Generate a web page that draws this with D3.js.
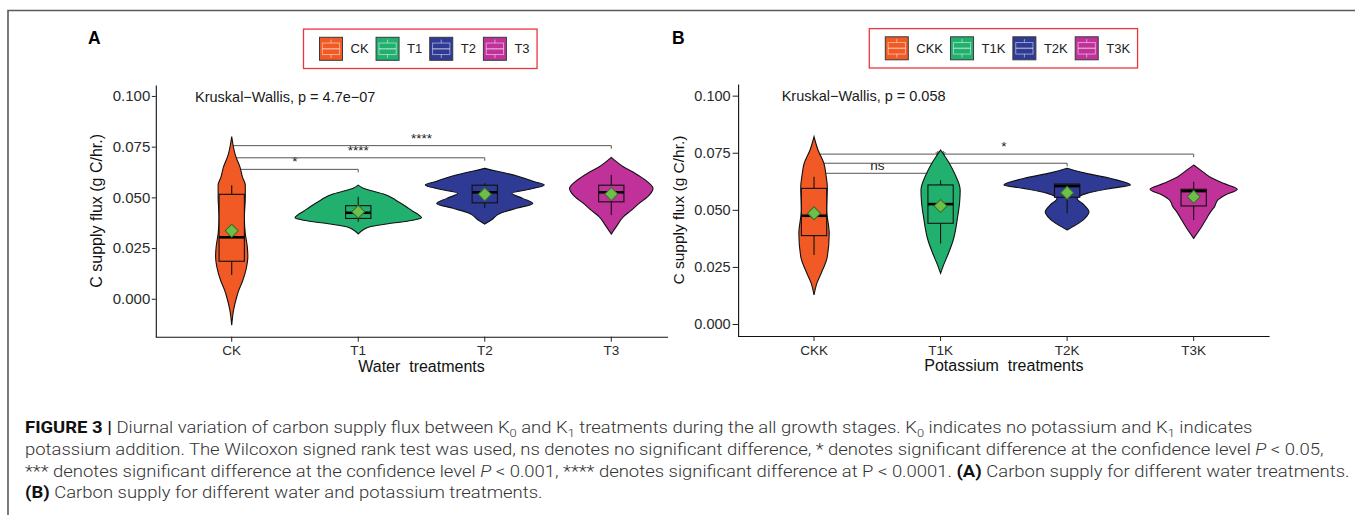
<!DOCTYPE html>
<html><head><meta charset="utf-8">
<script src="https://cdn.jsdelivr.net/npm/d3@7"></script>
<style>body{margin:0;background:#fff} svg{display:block}</style>
</head><body>
<svg id="c" width="1355" height="515"></svg>
<script>
// ---------------- DATA ----------------
const catsA = ["CK","T1","T2","T3"];
const catsB = ["CKK","T1K","T2K","T3K"];
const fillColors = ["#F15A24","#21B06E","#2E3A93","#C1319A"];
const yTicks = [0, 0.025, 0.05, 0.075, 0.1];
const yTickLabels = ["0.000","0.025","0.050","0.075","0.100"];

// violin profiles: [value, relative density]
const densCK  = [[0.080,0],[0.0706,0.06],[0.065,0.13],[0.060,0.17],[0.056,0.215],[0.050,0.215],[0.040,0.20],[0.032,0.215],[0.026,0.245],[0.021,0.255],[0.015,0.23],[0.009,0.175],[0.004,0.11],[0.001,0.08],[-0.0055,0.03],[-0.013,0]];
const densT1  = [[0.056,0],[0.0545,0.08],[0.053,0.24],[0.0517,0.4],[0.0485,0.6],[0.0454,0.76],[0.043,0.87],[0.0415,0.95],[0.040,1.0],[0.039,0.9],[0.038,0.71],[0.037,0.47],[0.0355,0.185],[0.034,0.08],[0.032,0]];
const densT2  = [[0.0643,0],[0.0631,0.16],[0.0618,0.35],[0.0602,0.55],[0.0577,0.79],[0.0561,0.94],[0.054,0.71],[0.052,0.43],[0.0495,0.6],[0.047,0.76],[0.0446,0.5],[0.0421,0.24],[0.039,0.11],[0.0368,0]];
const densT3  = [[0.0697,0],[0.0651,0.19],[0.0618,0.38],[0.0585,0.54],[0.0544,0.66],[0.0511,0.6],[0.047,0.44],[0.0437,0.32],[0.0404,0.19],[0.0363,0.095],[0.0319,0]];
const densCKK = [[0.082,0],[0.0762,0.063],[0.0703,0.157],[0.065,0.19],[0.0601,0.21],[0.050,0.2],[0.0397,0.24],[0.0295,0.21],[0.022,0.11],[0.018,0.047],[0.0127,0]];
const densT1K = [[0.0762,0],[0.0703,0.14],[0.066,0.22],[0.0587,0.31],[0.053,0.3],[0.047,0.27],[0.0368,0.2],[0.031,0.125],[0.026,0.05],[0.0222,0]];
const densT2K = [[0.0682,0],[0.0664,0.23],[0.0637,0.69],[0.0609,1.0],[0.0594,0.69],[0.0572,0.31],[0.055,0.16],[0.0521,0.27],[0.0492,0.345],[0.0463,0.28],[0.0434,0.14],[0.0412,0]];
const densT3K = [[0.0696,0],[0.0674,0.11],[0.0645,0.25],[0.0616,0.47],[0.059,0.69],[0.0565,0.5],[0.0543,0.38],[0.0514,0.33],[0.0492,0.27],[0.047,0.22],[0.0426,0.125],[0.0375,0]];

// box statistics
const wLowA  = [0.0117,0.0380,0.0446,0.0413];
const q1A    = [0.0185,0.0396,0.0473,0.0478];
const medA   = [0.0303,0.0424,0.0525,0.0525];
const q3A    = [0.0515,0.0459,0.0560,0.0560];
const wHighA = [0.0560,0.0503,0.0569,0.0610];
const meanA  = [0.0335,0.0429,0.0515,0.0516];

const wLowB  = [0.0302,0.0353,0.0485,0.0455];
const q1B    = [0.0387,0.0441,0.0555,0.0517];
const medB   = [0.0474,0.0525,0.0604,0.0582];
const q3B    = [0.0594,0.0609,0.0613,0.0590];
const wHighB = [0.0645,0.0630,0.0613,0.0623];
const meanB  = [0.0485,0.0517,0.0575,0.0557];

// significance brackets
const brFromA = ["CK","CK","CK"], brToA = ["T1","T2","T3"], brYA = [0.0638,0.0695,0.0755], brLabA = ["*","****","****"];
const brFromB = ["CKK","CKK","CKK"], brToB = ["T1K","T2K","T3K"], brYB = [0.0660,0.0704,0.0744], brLabB = ["ns","**","*"];

const kwA = "Kruskal\u2212Wallis, p = 4.7e\u221207";
const kwB = "Kruskal\u2212Wallis, p = 0.058";

// ---------------- DRAW ----------------
const svg = d3.select("#c");
const FONT = "'Liberation Sans', Arial, Helvetica, sans-serif";

// frame
svg.append("path").attr("d","M8,515V10.5H1355").attr("fill","none").attr("stroke","#5a5a5a").attr("stroke-width",1.6);

function drawPanel(p) {
  const g = svg.append("g").attr("font-family", FONT);
  const x = d3.scaleBand().domain(p.cats).range(p.xRange).paddingInner(0).paddingOuter(0.1);
  const cx = c => x(c) + x.bandwidth()/2;
  const y = d3.scaleLinear().domain(p.yDomain).range(p.yRange);
  const w = d3.scaleLinear().domain([0,1]).range([0, x.step()/2]);

  // panel letter
  g.append("text").attr("x", p.letterX).attr("y", p.letterY).attr("font-size", 17.5).attr("font-weight","bold").attr("fill","#000").text(p.letter);

  // legend
  const lg = g.append("g");
  const keyS = 23;
  let lx = p.legX + 16;
  const ly = p.legCY;
  p.cats.forEach((c,i) => {
    const k = lg.append("g").attr("transform", `translate(${lx},${ly - keyS/2})`);
    k.append("rect").attr("width",keyS).attr("height",keyS).attr("fill",fillColors[i]).attr("stroke","#3a3a3a").attr("stroke-width",1);
    const lc = "rgba(255,255,255,0.5)";
    k.append("rect").attr("x",keyS*0.125).attr("y",keyS*0.25).attr("width",keyS*0.75).attr("height",keyS*0.5).attr("fill","none").attr("stroke",lc);
    k.append("line").attr("x1",keyS*0.125).attr("x2",keyS*0.875).attr("y1",keyS/2).attr("y2",keyS/2).attr("stroke",lc).attr("stroke-width",1.5);
    k.append("line").attr("x1",keyS/2).attr("x2",keyS/2).attr("y1",keyS*0.1).attr("y2",keyS*0.25).attr("stroke",lc);
    k.append("line").attr("x1",keyS/2).attr("x2",keyS/2).attr("y1",keyS*0.75).attr("y2",keyS*0.9).attr("stroke",lc);
    lx += keyS + 8;
    const t = lg.append("text").attr("x", lx).attr("y", ly).attr("dy","0.36em").attr("font-size",13).attr("fill","#222").text(c);
    lx += t.node().getComputedTextLength() + 7.5;
  });
  lg.insert("rect",":first-child").attr("x",p.legX).attr("y",ly-19.7).attr("width",lx - p.legX).attr("height",39.4)
    .attr("fill","#fff").attr("stroke","#E8363E").attr("stroke-width",1.3);

  // axes
  const ya = d3.axisLeft(y).tickValues(yTicks).tickFormat((d,i)=>yTickLabels[i]).tickSize(p.yTick).tickSizeOuter(0).tickPadding(p.yPad);
  const yg = g.append("g").attr("transform",`translate(${p.xRange[0]},0)`).call(ya);
  yg.selectAll("text").attr("font-size",p.yFont).attr("fill","#2a2a2a").attr("font-family",FONT);
  yg.selectAll("line").attr("stroke","#222");
  yg.select(".domain").attr("stroke","#111").attr("stroke-width",1.1);

  const xa = d3.axisBottom(x).tickSize(5).tickSizeOuter(0).tickPadding(4);
  const xg = g.append("g").attr("transform",`translate(0,${p.yRange[0]})`).call(xa);
  xg.selectAll("text").attr("font-size",13.5).attr("fill","#2a2a2a").attr("font-family",FONT);
  xg.selectAll("line").attr("stroke","#222");
  xg.select(".domain").attr("stroke","#111").attr("stroke-width",1.1).attr("d",`M${p.xRange[0]},0.5H${p.xAxisEnd}`);

  // axis titles
  g.append("text").attr("x",(p.xRange[0]+p.xRange[1])/2).attr("y",p.xTitleY).attr("text-anchor","middle").attr("font-size",16).attr("fill","#111")
    .style("white-space","pre").text(p.xTitle);
  g.append("text").attr("transform",`translate(${p.yTitleX},${(p.yRange[0]+p.yRange[1])/2}) rotate(-90)`).attr("text-anchor","middle")
    .attr("dy","0.35em").attr("font-size",p.yTitleFont).attr("fill","#111").text("C supply flux (g C/hr.)");

  // Kruskal text
  g.append("text").attr("x",p.kwX).attr("y",p.kwY).attr("font-size",14.5).attr("fill","#1a1a1a").text(p.kw);

  // brackets
  p.brFrom.forEach((f,i) => {
    const x1 = cx(f), x2 = cx(p.brTo[i]), yy = y(p.brY[i]);
    g.append("path").attr("d",`M${x1},${yy+3}V${yy}H${x2}V${yy+3}`).attr("fill","none").attr("stroke","#555").attr("stroke-width",1);
    g.append("text").attr("x",(x1+x2)/2).attr("y",yy-3).attr("text-anchor","middle").attr("font-size",13.5).attr("fill","#222").text(p.brLab[i]);
  });

  // violins
  const area = d3.area().curve(d3.curveMonotoneY);
  p.cats.forEach((c,i) => {
    const pts = p.dens[i].slice().sort((a,b)=>b[0]-a[0]);
    area.y(d=>y(d[0])).x0(d=>cx(c)-w(d[1])).x1(d=>cx(c)+w(d[1]));
    g.append("path").attr("d",area(pts)).attr("fill",fillColors[i]).attr("stroke","#111").attr("stroke-width",1.1);
  });

  // boxes
  const hb = x.step()*0.1;
  p.cats.forEach((c,i) => {
    const xc = cx(c);
    g.append("line").attr("x1",xc).attr("x2",xc).attr("y1",y(p.wHigh[i])).attr("y2",y(p.q3[i])).attr("stroke","#111").attr("stroke-width",1.1);
    g.append("line").attr("x1",xc).attr("x2",xc).attr("y1",y(p.q1[i])).attr("y2",y(p.wLow[i])).attr("stroke","#111").attr("stroke-width",1.1);
    g.append("rect").attr("x",xc-hb).attr("width",2*hb).attr("y",y(p.q3[i])).attr("height",y(p.q1[i])-y(p.q3[i]))
      .attr("fill",fillColors[i]).attr("stroke","#111").attr("stroke-width",1.1);
    g.append("line").attr("x1",xc-hb).attr("x2",xc+hb).attr("y1",y(p.med[i])).attr("y2",y(p.med[i])).attr("stroke","#000").attr("stroke-width",2.6);
    g.append("path").attr("d",d3.symbol().type(d3.symbolSquare).size(85)())
      .attr("transform",`translate(${xc},${y(p.mean[i])}) rotate(45)`).attr("fill","#6CBF49").attr("stroke","#3d6a2c").attr("stroke-width",1);
  });
}

drawPanel({
  cats: catsA, letter:"A", letterX:88, letterY:44,
  legX:303.5, legCY:48.8,
  xRange:[155.8,687.2], xAxisEnd:668, yDomain:[-0.0187,0.1054], yRange:[336.7,85],
  yTick:4, yPad:1.5, yFont:15, xTitle:"Water  treatments", xTitleY:372, yTitleX:96, yTitleFont:16,
  kw:kwA, kwX:195, kwY:102,
  dens:[densCK,densT1,densT2,densT3],
  wLow:wLowA,q1:q1A,med:medA,q3:q3A,wHigh:wHighA,mean:meanA,
  brFrom:brFromA, brTo:brToA, brY:brYA, brLab:brLabA
});
drawPanel({
  cats: catsB, letter:"B", letterX:672, letterY:43.5,
  legX:869.3, legCY:48.3,
  xRange:[738.1,1269.6], xAxisEnd:1269.6, yDomain:[-0.00525,0.1051], yRange:[336,84],
  yTick:5.5, yPad:2, yFont:14.5, xTitle:"Potassium  treatments", xTitleY:370.5, yTitleX:679, yTitleFont:15.5,
  kw:kwB, kwX:781.7, kwY:101,
  dens:[densCKK,densT1K,densT2K,densT3K],
  wLow:wLowB,q1:q1B,med:medB,q3:q3B,wHigh:wHighB,mean:meanB,
  brFrom:brFromB, brTo:brToB, brY:brYB, brLab:brLabB
});

// ---------------- CAPTION ----------------
const capLines = [
  [["b","FIGURE 3 |"],["n"," Diurnal variation of carbon supply flux between K"],["s","0"],["n"," and K"],["s","1"],["n"," treatments during the all growth stages. K"],["s","0"],["n"," indicates no potassium and K"],["s","1"],["n"," indicates"]],
  [["n","potassium addition. The Wilcoxon signed rank test was used, ns denotes no significant difference, * denotes significant difference at the confidence level "],["i","P"],["n"," < 0.05,"]],
  [["n","*** denotes significant difference at the confidence level "],["i","P"],["n"," < 0.001, **** denotes significant difference at P < 0.0001. "],["b","(A)"],["n"," Carbon supply for different water treatments."]],
  [["b","(B)"],["n"," Carbon supply for different water and potassium treatments."]]
];
const capBase = [432.5,454.5,476.5,498];
const capEnd = [1265,1323,1339,null];
const capX = 25;
const capTexts = capLines.map((line,li) => {
  const t = svg.append("text").attr("x",0).attr("y",0).attr("font-family","Roboto, 'Liberation Sans', Arial, sans-serif")
    .attr("font-size",16.5).attr("font-weight",300).attr("fill","#333").style("white-space","pre");
  let prevSub = false;
  line.forEach(([k,s]) => {
    const ts = t.append("tspan").text(s);
    if (k==="b") ts.attr("font-weight",700).attr("fill","#111");
    if (k==="i") ts.attr("font-style","italic");
    if (k==="s") { ts.attr("font-size",11.5).attr("dy",4); prevSub = true; }
    else if (prevSub) { ts.attr("dy",-4); prevSub = false; }
  });
  return t;
});
const factors = capTexts.map((t,li) => capEnd[li] ? (capEnd[li]-capX)/t.node().getComputedTextLength() : null).filter(f=>f);
const sxAll = d3.mean(factors);
capTexts.forEach((t,li) => {
  t.attr("transform",`translate(${capX},${capBase[li]}) scale(${sxAll},1)`);
});
</script>
</body></html>
